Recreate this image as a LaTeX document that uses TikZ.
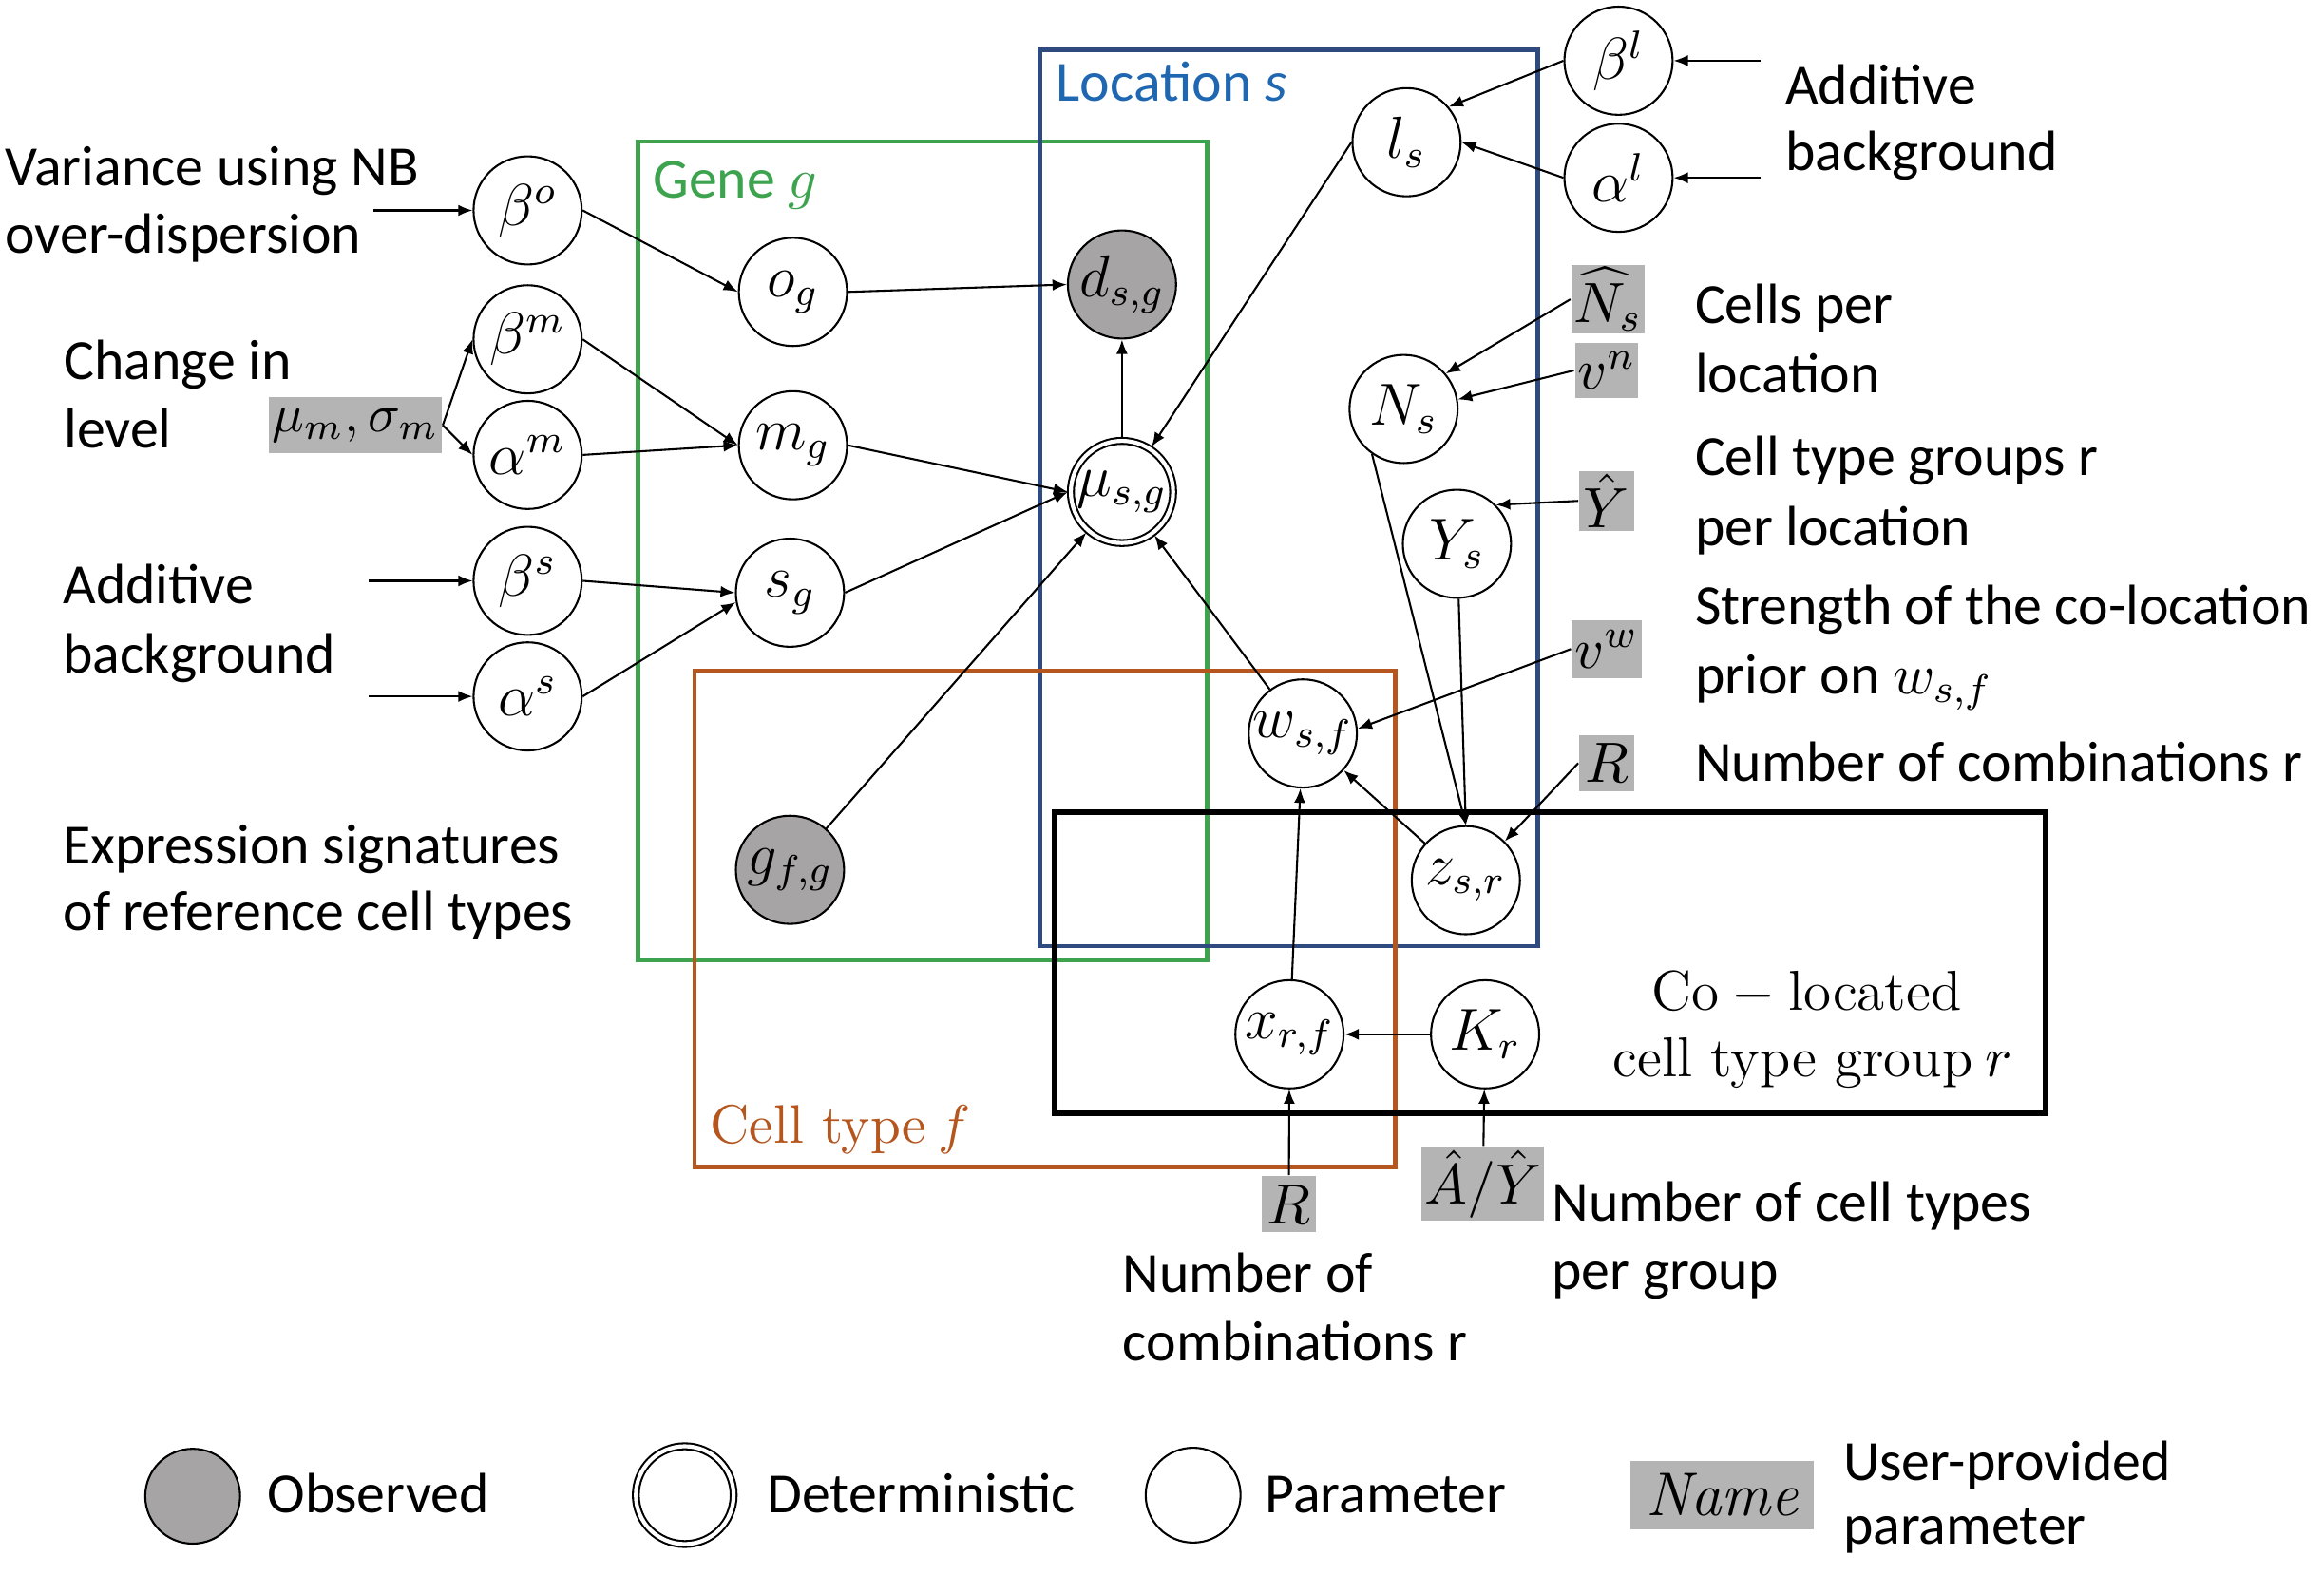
\RequirePackage{fix-cm}
\documentclass[tikz,border=0pt]{standalone}
\usepackage{fontspec}
\setmainfont{Carlito}
\newfontfamily\seriffam{Latin Modern Roman}
\usetikzlibrary{arrows.meta}
\definecolor{gcol}{HTML}{3DA34E}
\definecolor{bframe}{HTML}{2F4A7F}
\definecolor{btext}{HTML}{1F67B1}
\definecolor{ocol}{HTML}{B5561F}
\definecolor{obsgray}{HTML}{A6A4A4}
\definecolor{boxgray}{HTML}{B4B4B4}
\begin{document}
\begin{tikzpicture}[x=0.3pt,y=-0.3pt,
  every node/.style={font=\fontsize{11.5}{14}\selectfont},
  var/.style={circle,draw,line width=0.4pt,minimum size=21.9pt,inner sep=0pt,fill=white,font=\fontsize{12}{14}\selectfont},
  obs/.style={var,fill=obsgray},
  det/.style={circle,draw,double,double distance=0.8pt,line width=0.4pt,minimum size=20.7pt,inner sep=0pt,outer sep=0.6pt,fill=white,font=\fontsize{12}{14}\selectfont},
  upar/.style={fill=boxgray,inner sep=0.6pt},
  lab/.style={anchor=base west,inner sep=0pt},
  clab/.style={anchor=base,inner sep=0pt},
  edge/.style={draw,-{Latex[length=2.9pt,width=2.3pt]},line width=0.4pt},
  plate/.style={draw,line width=0.9pt}]
\useasboundingbox (0,0) rectangle (1568,1062);

% plates
\draw[plate,gcol] (430.4,95.5) rectangle (814.6,648);
\draw[plate,bframe] (701.7,33.8) rectangle (1037.7,638.5);
\draw[plate,ocol] (468.5,452.6) rectangle (941.5,787.5);
\draw[line width=1.2pt] (711.8,548) rectangle (1380,751.5);

% plate labels
\node[lab,text=gcol] (lgene) at (440,133.8) {Gene $g$};
\node[lab,text=btext] (lloc) at (712,68.4) {Location \textit{s}};
\node[lab,text=ocol,font=\fontsize{11}{14}\selectfont] (lcell) at (478.6,771.4) {{\seriffam Cell type} $f$};
\node[clab,font=\fontsize{11.4}{14}\selectfont] (lco1) at (1219,681.5) {{\seriffam Co} $-$ {\seriffam located}};
\node[clab,font=\fontsize{11.4}{14}\selectfont] (lco2) at (1223,726.7) {{\seriffam cell type group} $r$};

% variable nodes
\node[var] (bo) at (356,142) {$\beta^o$};
\node[var] (bm) at (356,229) {$\beta^m$};
\node[var] (am) at (356,307) {$\alpha^m$};
\node[var] (bs) at (356,392) {$\beta^s$};
\node[var] (as) at (356,470) {$\alpha^s$};
\node[var] (og) at (535,197) {$o_g$};
\node[var] (mg) at (535,300.5) {$m_g$};
\node[var] (sg) at (533,400) {$s_g$};
\node[obs] (gfg) at (533,587) {$g_{f,g}$};
\node[obs] (dsg) at (757,192) {$d_{s,g}$};
\node[det] (mu) at (757,332) {$\mu_{s,g}$};
\node[var] (ls) at (949,96) {$l_s$};
\node[var] (bl) at (1092,41) {$\beta^l$};
\node[var] (al) at (1092,120) {$\alpha^l$};
\node[var] (Ns) at (947,276) {$N_s$};
\node[var] (Ys) at (983,367) {$Y_s$};
\node[var] (wsf) at (879,495) {$w_{s,f}$};
\node[var] (zsr) at (989,594) {$z_{s,r}$};
\node[var] (xrf) at (870,698) {$x_{r,f}$};
\node[var] (Kr) at (1002,698) {$K_r$};

% user-provided parameters
\node[upar,minimum width=30.9pt,minimum height=11.4pt,font=\fontsize{10.8}{13}\selectfont] (musig) at (239.7,287) {$\mu_m,\sigma_m$};
\node[upar,minimum width=13.8pt,minimum height=12pt] (Nhat) at (1085,202) {$\widehat{N}_s$};
\node[upar,minimum width=11.1pt,minimum height=11.1pt] (vn) at (1084,250) {$v^n$};
\node[upar,minimum width=11.1pt,minimum height=12pt] (Yhat) at (1084,338) {$\hat{Y}$};
\node[upar,minimum width=13.2pt,minimum height=11.7pt] (vw) at (1084,438) {$v^w$};
\node[upar,minimum width=11.1pt,minimum height=11.4pt] (Rtop) at (1084,515) {$R$};
\node[upar,minimum width=11.1pt,minimum height=11.4pt] (Rbot) at (869.6,812.7) {$R$};
\node[upar,minimum width=22.8pt,minimum height=12pt] (AY) at (1000.5,799) {$\hat{A}/\hat{Y}$};

% free ends
\coordinate (inbo) at (252,142);
\coordinate (inbs) at (249,392);
\coordinate (inas) at (249,470);
\coordinate (inbl) at (1188,41);
\coordinate (inal) at (1188,120);

% edges
\draw[edge] (inbo) -- (bo.west);
\draw[edge] (bo.east) -- (og.west);
\draw[edge] (musig.east) -- (bm.west);
\draw[edge] (musig.east) -- (am.west);
\draw[edge] (bm.east) -- (mg.west);
\draw[edge] (am.east) -- (mg.west);
\draw[edge] (inbs) -- (bs.west);
\draw[edge] (inas) -- (as.west);
\draw[edge] (bs.east) -- (sg.west);
\draw[edge] (as.east) -- (sg.190);
\draw[edge] (og.east) -- (dsg.west);
\draw[edge] (mg.east) -- (mu.west);
\draw[edge] (sg.east) -- (mu.west);
\draw[edge] (gfg) -- (mu);
\draw[edge] (mu) -- (dsg);
\draw[edge] (ls.west) -- (mu);
\draw[edge] (wsf) -- (mu);
\draw[edge] (bl.west) -- (ls.40);
\draw[edge] (al.west) -- (ls.east);
\draw[edge] (inbl) -- (bl.east);
\draw[edge] (inal) -- (al.east);
\draw[edge] (Nhat.west) -- (Ns.40);
\draw[edge] (vn.west) -- (Ns.10);
\draw[edge] (Yhat.west) -- (Ys.45);
\draw[edge] (Ns.235) -- (zsr.north);
\draw[edge] (Ys) -- (zsr.north);
\draw[edge] (vw.west) -- (wsf.5);
\draw[edge] (Rtop.west) -- (zsr.45);
\draw[edge] (zsr) -- (wsf);
\draw[edge] (xrf) -- (wsf);
\draw[edge] (Kr) -- (xrf);
\draw[edge] (Rbot) -- (xrf);
\draw[edge] (AY) -- (Kr);

% descriptive texts, left
\node[lab] (t1a) at (3,125.5) {Variance using NB};
\node[lab] (t1b) at (3,171) {over-dispersion};
\node[lab] (t2a) at (42.5,256.4) {Change in};
\node[lab] (t2b) at (42.5,302.5) {level};
\node[lab] (t3a) at (42,407.7) {Additive};
\node[lab] (t3b) at (42,454) {background};
\node[lab] (t4a) at (42,583) {Expression signatures};
\node[lab] (t4b) at (42,628) {of reference cell types};
% right
\node[lab] (t5a) at (1204,70) {Additive};
\node[lab] (t5b) at (1204,115) {background};
\node[lab] (t6a) at (1143,218) {Cells per};
\node[lab] (t6b) at (1143,265) {location};
\node[lab] (t7a) at (1143,321) {Cell type groups r};
\node[lab] (t7b) at (1143,368) {per location};
\node[lab] (t8a) at (1143,421.8) {Strength of the co-location};
\node[lab] (t8b) at (1143,468) {prior on $w_{s,f}$};
\node[lab] (t9) at (1143,527) {Number of combinations r};
% bottom
\node[lab] (t10a) at (757,872) {Number of};
\node[lab] (t10b) at (757,918) {combinations r};
\node[lab] (t11a) at (1046.5,824) {Number of cell types};
\node[lab] (t11b) at (1046.5,870) {per group};

% legend
\node[obs,minimum size=19.2pt] (lobs) at (130,1009.7) {};
\node[lab] (tobs) at (180,1021) {Observed};
\node[det,minimum size=19.8pt] (ldet) at (462,1009) {};
\node[lab] (tdet) at (517,1021) {Deterministic};
\node[var,minimum size=19.2pt] (lpar) at (805,1009) {};
\node[lab] (tpar) at (853,1021) {Parameter};
\node[upar,minimum width=37.2pt,minimum height=13.8pt,font=\fontsize{12.5}{14}\selectfont] (lname) at (1162,1009) {{\seriffam\itshape Name}};
\node[lab] (tup1) at (1243,999) {User-provided};
\node[lab] (tup2) at (1243,1042) {parameter};
\end{tikzpicture}
\end{document}
